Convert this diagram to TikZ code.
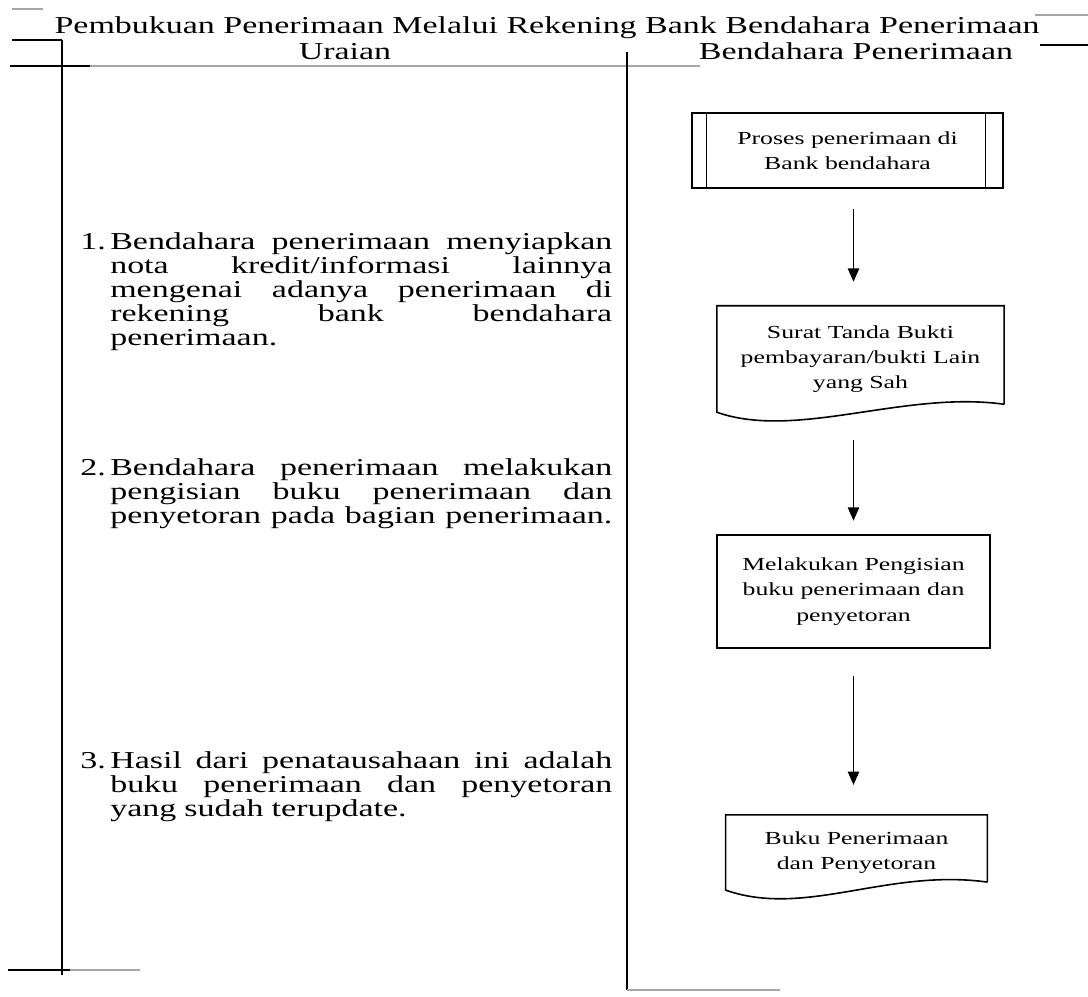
\documentclass[tikz,border=0pt]{standalone}
\usepackage{fontspec}
\setmainfont[FakeStretch=1.4]{Liberation Serif}
\usetikzlibrary{arrows.meta,calc}

\newcommand{\jline}[1]{\makebox[\linewidth][s]{\spaceskip=0.25em plus 1fil\relax #1}}
% outline of a document box round a node
\newcommand{\docline}[1]{%
  \draw [line width=1.2pt] ($(#1.south east)+(0,-8)$) -- (#1.north east) -- (#1.north west) -- (#1.south west)
    .. controls ($(#1.south west)+(80,28)$) and ($(#1.south east)+(-100,-22)$) .. ($(#1.south east)+(0,-8)$) ;}

\tikzset{
  uraian/.style={font=\fontsize{18.2}{18}\selectfont, text width=376.5pt, align=left, inner sep=0pt},
  nomor/.style={font=\fontsize{18.2}{18}\selectfont, inner sep=0pt},
  boxtext/.style={font=\fontsize{13.8}{19}\selectfont, align=center, inner sep=0pt},
  flow/.style={line width=1.1pt, -{Triangle[width=8.5pt,length=10pt]}},
  faint/.style={line width=0.8pt, black!35}
}

\begin{document}
\begin{tikzpicture}[x=0.75pt,y=0.75pt,yscale=-1,xscale=1]
\useasboundingbox (0,0) rectangle (1088,996);

%Straight Lines: table rules
\draw [faint]    (12,9) -- (43,9) ;
\draw [line width=1pt]    (12,40) -- (62,40) ;
\draw [faint]    (1035,15) -- (1088,15) ;
\draw [line width=1pt]    (1040,45) -- (1088,45) ;
\draw [line width=1pt]    (10,66) -- (90,66) ;
\draw [faint]    (90,66) -- (700,66) ;
\draw [line width=0.8pt]    (62,40) -- (62,975) ;
\draw [line width=0.8pt]    (627,52) -- (627,990) ;
\draw [line width=1pt]    (8,970) -- (70,970) ;
\draw [faint]    (70,970) -- (140,970) ;
\draw [faint]    (627,990) -- (780,990) ;

% Text Node: title and headers
\node [nomor, anchor=base] (judul) at (547,33) {Pembukuan Penerimaan Melalui Rekening Bank Bendahara Penerimaan};
\node [nomor, anchor=base] (kolom1) at (345,59) {Uraian};
\node [nomor, anchor=base] (kolom2) at (856,59) {Bendahara Penerimaan};

% Text Node: uraian
\node [nomor, anchor=base west] (n1) at (80,249) {1.};
\node [uraian, anchor=base west] (u1) at (110,249) {\jline{Bendahara penerimaan menyiapkan}\\
  \jline{nota kredit/informasi lainnya}\\ \jline{mengenai adanya penerimaan di}\\
  \jline{rekening bank bendahara}\\ penerimaan.};
\node [nomor, anchor=base west] (n2) at (80,475) {2.};
\node [uraian, anchor=base west] (u2) at (110,475) {\jline{Bendahara penerimaan melakukan}\\
  \jline{pengisian buku penerimaan dan}\\ \jline{penyetoran pada bagian penerimaan.}};
\node [nomor, anchor=base west] (n3) at (80,768) {3.};
\node [uraian, anchor=base west] (u3) at (110,768) {\jline{Hasil dari penatausahaan ini adalah}\\
  \jline{buku penerimaan dan penyetoran}\\ yang sudah terupdate.};

%Shape: Predefined process
\node [boxtext, draw, line width=1.2pt, minimum width=233pt, minimum height=56pt] (proses) at (847.5,150.5) {Proses penerimaan di\\Bank bendahara};
\draw [line width=1.2pt] ($(proses.north west)+(15,0)$) -- ($(proses.south west)+(15,0)$) ;
\draw [line width=1.2pt] ($(proses.north east)+(-18,0)$) -- ($(proses.south east)+(-18,0)$) ;

%Shape: Document
\node [boxtext, minimum width=215pt, minimum height=79.5pt] (surat) at (860.5,359) {Surat Tanda Bukti\\pembayaran/bukti Lain\\yang Sah};
\docline{surat}

%Shape: Rectangle
\node [boxtext, draw, line width=1.2pt, minimum width=205pt, minimum height=85pt] (isi) at (853.5,591.5) {Melakukan Pengisian\\buku penerimaan dan\\penyetoran};

%Shape: Document
\node [boxtext, minimum width=196pt, minimum height=56pt] (buku) at (856.5,852.5) {Buku Penerimaan\\dan Penyetoran};
\docline{buku}

%Arrows
\draw [flow, shorten <=15pt, shorten >=18pt] (proses.south -| isi) -- (surat.north -| isi) ;
\draw [flow, shorten <=21pt, shorten >=10pt] (surat.south -| isi) -- (isi.north) ;
\draw [flow, shorten <=20pt, shorten >=22.5pt] (isi.south) -- (buku.north -| isi) ;
\end{tikzpicture}
\end{document}
